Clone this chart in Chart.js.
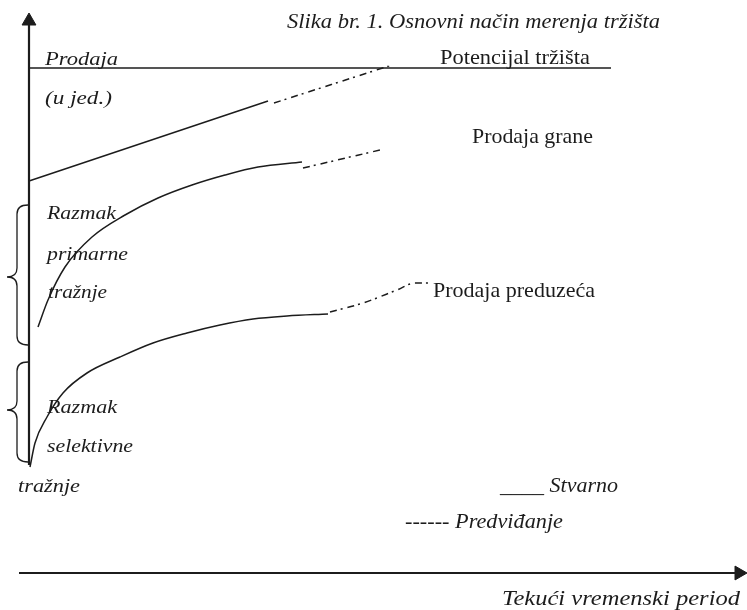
<!DOCTYPE html>
<html>
<head>
<meta charset="utf-8">
<script src="https://cdn.jsdelivr.net/npm/chart.js@4/dist/chart.umd.min.js"></script>
<style>
  html, body { margin: 0; padding: 0; background: #ffffff; }
  #wrap { width: 747px; height: 610px; }
</style>
</head>
<body>
<div id="wrap"><canvas id="c" width="747" height="610"></canvas></div>
<script>
// ---- Data (x: time units from the sales axis, y: sales units above the time axis) ----
const potentialLine     = [{x: 0, y: 505}, {x: 582, y: 505}];
const industryActual    = [{x: 0, y: 392}, {x: 239, y: 472}];
const industryForecast  = [{x: 245, y: 470}, {x: 363, y: 508}];
const industrySales     = [
  {x: 9, y: 246}, {x: 19, y: 273}, {x: 36, y: 306}, {x: 63, y: 336}, {x: 96, y: 358},
  {x: 129, y: 375}, {x: 163, y: 388}, {x: 196, y: 398}, {x: 229, y: 406}, {x: 273, y: 411}
];
const industrySalesForecast = [{x: 274, y: 405}, {x: 351, y: 423}];
const companySales = [
  {x: 1, y: 106}, {x: 6, y: 130}, {x: 18, y: 156}, {x: 34, y: 180}, {x: 58, y: 200},
  {x: 91, y: 216}, {x: 124, y: 230}, {x: 158, y: 240}, {x: 191, y: 248}, {x: 224, y: 254},
  {x: 258, y: 257}, {x: 299, y: 259}
];
const companySalesForecast = [
  {x: 301, y: 261}, {x: 334, y: 270}, {x: 368, y: 283}, {x: 386, y: 290}, {x: 399, y: 290}
];
const salesAxis = [{x: 0, y: 108}, {x: 0, y: 552}];
const timeAxis  = [{x: -10, y: 0}, {x: 710, y: 0}];

// Curly braces marking the demand gaps: [top, tip, bottom] in sales units
const primaryGap   = [368, 296, 228];
const selectiveGap = [211, 163, 111];

// Text labels
const labelTexts = [
  'Slika br. 1. Osnovni način merenja tržišta',
  'Prodaja', '(u jed.)', 'Potencijal tržišta', 'Prodaja grane',
  'Razmak', 'primarne', 'tražnje', 'Prodaja preduzeća',
  'Razmak', 'selektivne', 'tražnje',
  '____ Stvarno', '------ Predviđanje', 'Tekući vremenski period'
];
const labelAnchors = [
  [258, 545], [16, 508], [16, 469], [411, 509], [443, 430],
  [18, 354], [18, 313], [19, 275], [404, 276],
  [18, 160], [18, 121], [-11, 81],
  [471, 81], [376, 45], [473, -32]
];
const labelItalic = [true, true, true, false, false, true, true, true, false, true, true, true, true, true, true];
const labelSize   = [20, 19, 19, 21, 21, 19, 19, 19, 21, 19, 19, 19, 21, 21, 21];
const labelWidth  = [373, 73, 67, 150, 121, 69, 81, 59, 162, 70, 86, 62, 118, 158, 238];

const INK = '#1c1c1c';

const overlay = {
  id: 'overlay',
  afterDatasetsDraw(chart) {
    const ctx = chart.ctx;
    const xs = chart.scales.x, ys = chart.scales.y;
    // braces
    ctx.save();
    ctx.strokeStyle = INK;
    ctx.lineWidth = 1.3;
    const xR = xs.getPixelForValue(-1), xM = xs.getPixelForValue(-12), xT = xs.getPixelForValue(-22);
    [primaryGap, selectiveGap].forEach(g => {
      const top = ys.getPixelForValue(g[0]), tip = ys.getPixelForValue(g[1]), bot = ys.getPixelForValue(g[2]);
      ctx.beginPath();
      ctx.moveTo(xR, top);
      ctx.quadraticCurveTo(xM, top, xM, top + 9);
      ctx.lineTo(xM, tip - 9);
      ctx.quadraticCurveTo(xM, tip, xT, tip);
      ctx.quadraticCurveTo(xM, tip, xM, tip + 9);
      ctx.lineTo(xM, bot - 9);
      ctx.quadraticCurveTo(xM, bot, xR, bot);
      ctx.stroke();
    });
    ctx.restore();
    // labels
    ctx.save();
    ctx.fillStyle = INK;
    ctx.textBaseline = 'alphabetic';
    ctx.textAlign = 'left';
    labelTexts.forEach((t, i) => {
      const px = xs.getPixelForValue(labelAnchors[i][0]);
      const py = ys.getPixelForValue(labelAnchors[i][1]);
      ctx.font = (labelItalic[i] ? 'italic ' : '') + labelSize[i] + 'px "Liberation Serif", "Times New Roman", serif';
      const w = ctx.measureText(t).width;
      const k = labelWidth[i] / w;
      ctx.save();
      ctx.translate(px, py);
      ctx.scale(k, 1);
      ctx.fillText(t, 0, 0);
      ctx.restore();
    });
    ctx.restore();
  }
};

const solid = (data, extra) => Object.assign({
  data, showLine: true, borderColor: INK, borderWidth: 1.5, pointRadius: 0,
  fill: false, clip: false, cubicInterpolationMode: 'monotone'
}, extra || {});
const dashDot = [7, 4, 2, 5];

new Chart(document.getElementById('c'), {
  type: 'scatter',
  data: {
    datasets: [
      solid(potentialLine, {borderWidth: 1.6}),
      solid(industryActual),
      solid(industryForecast, {borderDash: dashDot}),
      solid(industrySales),
      solid(industrySalesForecast, {borderDash: dashDot}),
      solid(companySales),
      solid(companySalesForecast, {borderDash: dashDot}),
      solid(salesAxis, {borderWidth: 2.2, pointRadius: [0, 8], pointStyle: 'triangle',
        pointBackgroundColor: INK, pointBorderColor: INK, pointBorderWidth: 1}),
      solid(timeAxis, {borderWidth: 2.2, pointRadius: [0, 8], pointStyle: 'triangle', pointRotation: 90,
        pointBackgroundColor: INK, pointBorderColor: INK, pointBorderWidth: 1})
    ]
  },
  options: {
    responsive: false,
    animation: false,
    layout: {padding: 0, autoPadding: false},
    plugins: {legend: {display: false}, tooltip: {enabled: false}},
    elements: {line: {tension: 0}},
    scales: {
      x: {type: 'linear', min: -29, max: 718, display: false},
      y: {type: 'linear', min: -37, max: 573, display: false}
    }
  },
  plugins: [overlay]
});
</script>
</body>
</html>
